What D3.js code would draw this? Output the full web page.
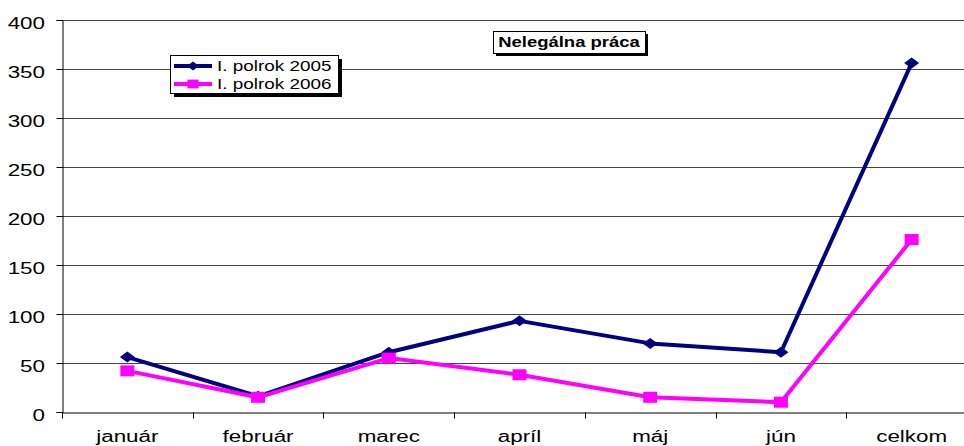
<!DOCTYPE html>
<html lang="en">
<head>
  <meta charset="UTF-8">
  <title>Nelegálna práca</title>
  <script src="https://d3js.org/d3.v7.min.js"></script>
  <style>
    body { margin: 0; background: #fff; }
    text { font-family: "Liberation Sans", Arial, sans-serif; }
  </style>
</head>
<body>
<svg width="964" height="446"></svg>
<script>
  const months = ["január", "február", "marec", "apríl", "máj", "jún", "celkom"];
  const values2005 = [56, 16, 61, 93, 70, 61, 356];
  const values2006 = [42, 15, 55, 38, 15, 10, 176];
  const yTicks = [0, 50, 100, 150, 200, 250, 300, 350, 400];
  const seriesNames = ["I. polrok 2005", "I. polrok 2006"];

  const svg = d3.select("svg");
  const plotLeft = 62, plotRight = 977, plotTop = 20, plotBottom = 412;
  const stretch = 1.4; // the original text is wide, stretch it horizontally

  const x = d3.scaleBand().domain(months).range([plotLeft, plotRight]);
  const y = d3.scaleLinear().domain([0, 400]).range([plotBottom, plotTop]);

  // gridlines
  svg.append("g")
    .selectAll("line")
    .data(yTicks.filter(d => d > 0))
    .enter().append("line")
      .attr("x1", plotLeft).attr("x2", 964)
      .attr("y1", d => y(d) + 0.5).attr("y2", d => y(d) + 0.5)
      .attr("stroke", "#444").attr("stroke-width", 1);

  // y axis
  const yAxis = svg.append("g")
    .attr("transform", `translate(${plotLeft + 0.5},0)`)
    .call(d3.axisLeft(y).tickValues(yTicks).tickSize(6));
  yAxis.select(".domain").attr("stroke", "#000");
  yAxis.selectAll("line").attr("stroke", "#000");
  yAxis.selectAll("text")
    .attr("font-size", 16).attr("fill", "#000")
    .attr("font-family", "'Liberation Sans', Arial, sans-serif")
    .attr("x", -17.5 / stretch).attr("dy", "0.5em")
    .attr("transform", `scale(${stretch},1)`);

  // x axis
  const xAxis = svg.append("g")
    .attr("transform", `translate(0,${plotBottom + 0.5})`)
    .call(d3.axisBottom(x).tickSize(0).tickPadding(18));
  xAxis.select(".domain").attr("stroke", "#000");
  xAxis.selectAll("text")
    .attr("font-size", 16).attr("fill", "#000")
    .attr("font-family", "'Liberation Sans', Arial, sans-serif")
    .attr("transform", `scale(${stretch},1)`);
  xAxis.selectAll(".bnd").data(months).enter().append("line")
    .attr("x1", d => Math.round(x(d)) + 0.5).attr("x2", d => Math.round(x(d)) + 0.5)
    .attr("y1", 0).attr("y2", 6).attr("stroke", "#000");

  const cx = d => x(d) + x.bandwidth() / 2;
  const line = d3.line().x((d, i) => cx(months[i])).y(d => y(d));

  const series = [
    { name: seriesNames[0], values: values2005, color: "#000080", shape: "diamond" },
    { name: seriesNames[1], values: values2006, color: "#FF00FF", shape: "square" }
  ];

  function marker(g, shape, color) {
    if (shape === "diamond") {
      g.append("path").attr("d", "M0,-5.5L7.5,0L0,5.5L-7.5,0Z").attr("fill", color);
    } else {
      g.append("rect").attr("x", -7).attr("y", -5.5).attr("width", 14).attr("height", 11).attr("fill", color);
    }
  }

  series.forEach(s => {
    svg.append("path")
      .attr("d", line(s.values))
      .attr("fill", "none")
      .attr("stroke", s.color)
      .attr("stroke-width", 4)
      .attr("stroke-linejoin", "round");
    s.values.forEach((v, i) => {
      const g = svg.append("g").attr("transform", `translate(${cx(months[i])},${y(v)})`);
      marker(g, s.shape, s.color);
    });
  });

  // legend
  const lg = svg.append("g").attr("transform", "translate(170,55)");
  lg.append("rect").attr("x", 4).attr("y", 4).attr("width", 168).attr("height", 38).attr("fill", "#000");
  lg.append("rect").attr("x", 0.5).attr("y", 0.5).attr("width", 168).attr("height", 38)
    .attr("fill", "#fff").attr("stroke", "#000");
  series.forEach((s, i) => {
    const ry = 11 + i * 18;
    lg.append("line").attr("x1", 4).attr("x2", 42).attr("y1", ry).attr("y2", ry)
      .attr("stroke", s.color).attr("stroke-width", 4);
    const m = lg.append("g").attr("transform", `translate(23,${ry}) scale(0.8)`);
    marker(m, s.shape, s.color);
    lg.append("g").attr("transform", `translate(47,${ry + 5}) scale(1.35,1)`)
      .append("text").attr("font-size", 14).text(s.name);
  });

  // title box
  const tg = svg.append("g").attr("transform", "translate(493,31)");
  tg.append("rect").attr("x", 3).attr("y", 3).attr("width", 152).attr("height", 22).attr("fill", "#000");
  tg.append("rect").attr("x", 0.5).attr("y", 0.5).attr("width", 152).attr("height", 22)
    .attr("fill", "#fff").attr("stroke", "#000");
  tg.append("g").attr("transform", "translate(76,16) scale(1.32,1)")
    .append("text").attr("text-anchor", "middle")
    .attr("font-size", 14).attr("font-weight", "bold").text("Nelegálna práca");
</script>
</body>
</html>
